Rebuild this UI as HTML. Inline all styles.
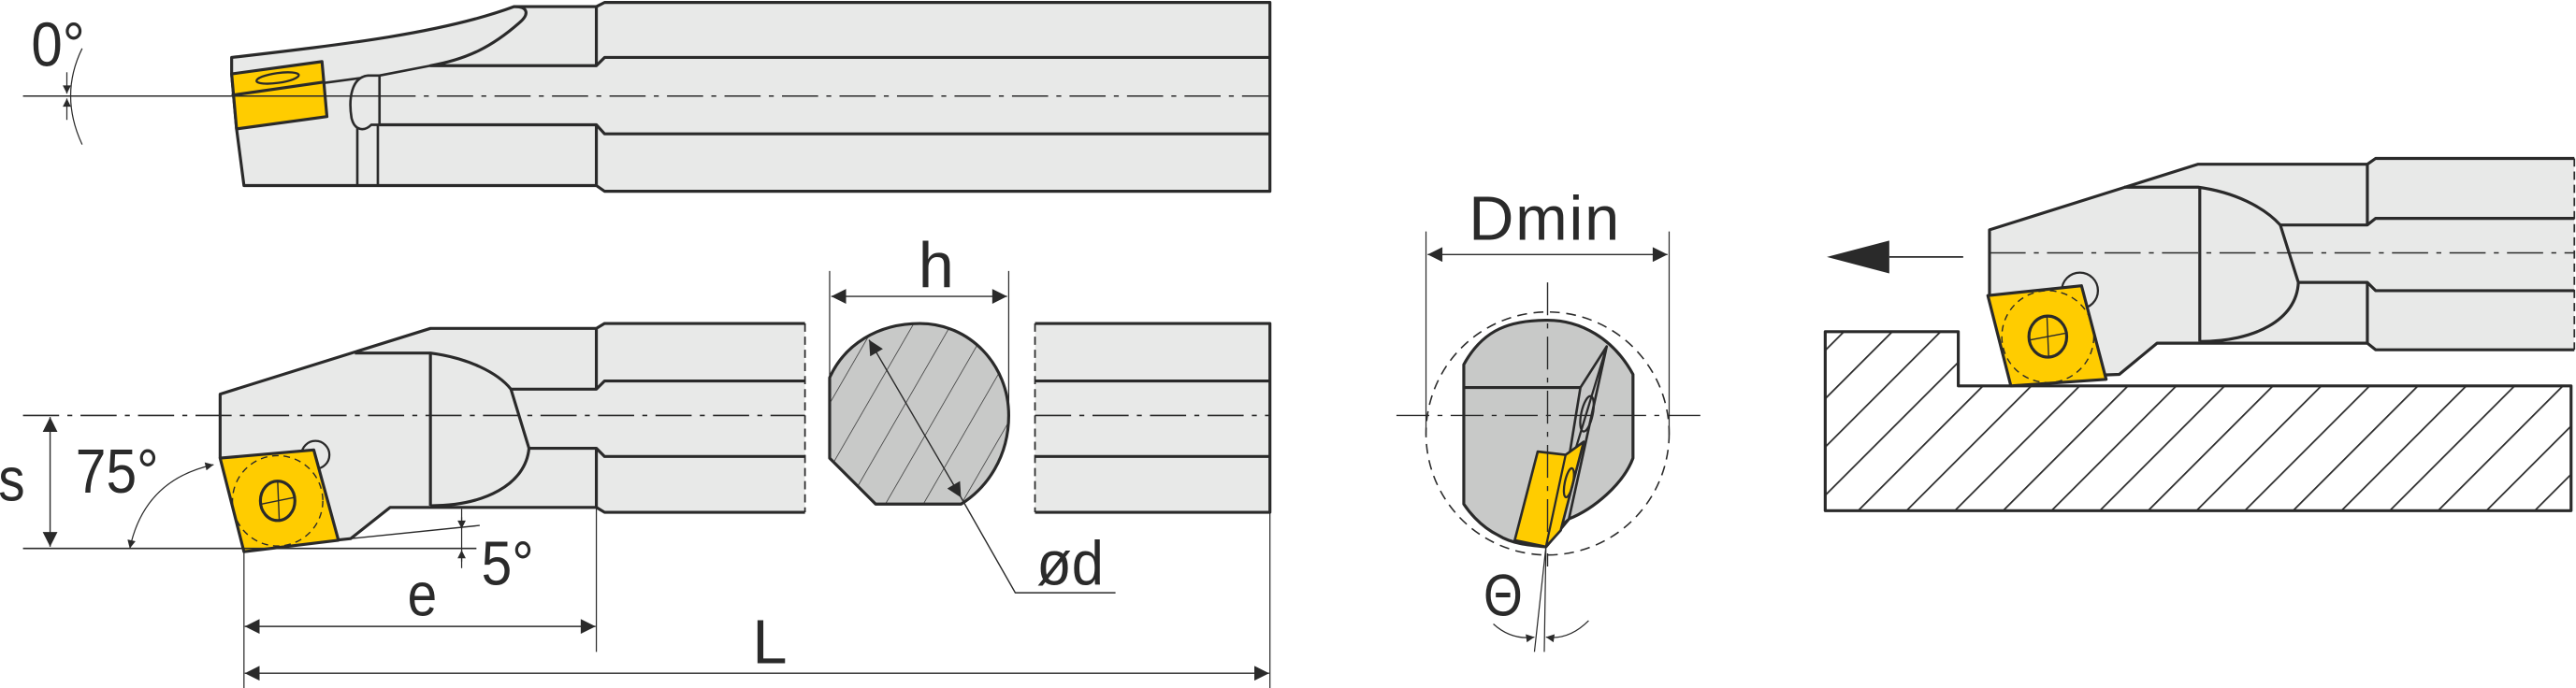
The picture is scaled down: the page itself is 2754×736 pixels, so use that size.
<!DOCTYPE html>
<html><head><meta charset="utf-8"><style>
html,body{margin:0;padding:0;background:#fff}
svg{display:block}
text{font-family:"Liberation Sans",sans-serif;fill:#2a2a2a}
</style></head><body>
<svg width="2754" height="736" viewBox="0 0 1568 419" preserveAspectRatio="none" xmlns="http://www.w3.org/2000/svg">
<defs>
<pattern id="h1" patternUnits="userSpaceOnUse" width="20.8" height="20.8" patternTransform="rotate(45)">
<line x1="0" y1="0" x2="0" y2="20.8" stroke="#2a2a2a" stroke-width="2"/></pattern>
<pattern id="h2" patternUnits="userSpaceOnUse" width="20" height="20" patternTransform="rotate(30)">
<line x1="0" y1="0" x2="0" y2="20" stroke="#2a2a2a" stroke-width="0.8"/></pattern>
<marker id="ar" viewBox="0 0 10 10" refX="10" refY="5" markerWidth="14" markerHeight="9" markerUnits="userSpaceOnUse" orient="auto-start-reverse"><path d="M0,0 L10,5 L0,10 z" fill="#2a2a2a"/></marker>
<marker id="as" viewBox="0 0 10 10" refX="10" refY="5" markerWidth="7" markerHeight="5" markerUnits="userSpaceOnUse" orient="auto-start-reverse"><path d="M0,0 L10,5 L0,10 z" fill="#2a2a2a"/></marker>
</defs>
<g stroke="#2a2a2a" stroke-linejoin="round" fill="none">

<!-- ============ TOP TOOL ============ -->
<path d="M141,35 C210,27 270,20 313,4 L363,4 L368,1.5 L773,1.5 L773,116.5 L368,116.5 L363,113 L148.5,113 L144,78.5 L141,45 Z" fill="#e8e9e8" stroke-width="1.8"/>
<path d="M313,4 C322,4 322,9 316,14 C300,28 285,36 262,40 L363,40 L368,35 L773,35" stroke-width="1.8"/>
<path d="M363,4 L363,40 M363,76 L363,113" stroke-width="1.8"/>
<path d="M231,76 L363,76 L368,81.5 L773,81.5" stroke-width="1.8"/>
<path d="M141,58 L231,46 L262,40" stroke-width="1.5"/>
<polygon points="141,45 196,37.5 199,71 144,78.5" fill="#ffcc00" stroke-width="1.8"/>
<line x1="141" y1="58" x2="197" y2="50" stroke-width="1.8"/>
<ellipse cx="169" cy="47.5" rx="13" ry="3" transform="rotate(-8 169 47.5)" stroke-width="1.3"/>
<path d="M224,46 C214,47 212,60 214,72 C216,80 222,80 226,76 L231,76 L231,46 Z" fill="#e8e9e8" stroke-width="1.5"/>
<path d="M217.5,78 L217.5,113 M230,76 L230,113" stroke-width="1.5"/>
<line x1="14" y1="58.5" x2="231" y2="58.5" stroke-width="0.9"/>
<line x1="231" y1="58.5" x2="773" y2="58.5" stroke-width="0.9" stroke-dasharray="22,5,3,5"/>
<path d="M50,29.5 Q36,58 50,88" stroke-width="0.7"/>
<path d="M40.7,44 L40.7,57" stroke-width="0.7" marker-end="url(#as)"/>
<path d="M40.7,73 L40.7,60" stroke-width="0.7" marker-end="url(#as)"/>

<!-- ============ BOTTOM TOOL ============ -->
<path d="M134,279 L134,240 L262,200 L363,200 L368,197 L490,197 L490,312 L368,312 L363,309 L237.5,309 L213.5,328 L200,329 Z" fill="#e8e9e8" stroke="none"/>
<path d="M134,279 L134,240 L262,200 L363,200 L368,197 L490,197" stroke-width="1.8"/>
<path d="M490,312 L368,312 L363,309 L237.5,309 L213.5,328 L204,329" stroke-width="1.8"/>
<path d="M216,215 L262,215 C285,218 303,227 311,237 L363,237 L368,232 L490,232" stroke-width="1.8"/>
<path d="M311,237 L322,273 L363,273 L368,278 L490,278" stroke-width="1.8"/>
<path d="M322,273 C320,295 295,308 262,308" stroke-width="1.8"/>
<path d="M262,215 L262,308 M363,200 L363,237 M363,273 L363,309" stroke-width="1.8"/>
<line x1="490" y1="197" x2="490" y2="312" stroke-width="1" stroke-dasharray="5,3"/>
<rect x="630" y="197" width="143" height="115" fill="#e8e9e8" stroke="none"/>
<path d="M630,197 L773,197 L773,312 L630,312 M630,232 L773,232 M630,278 L773,278" stroke-width="1.8"/>
<line x1="630" y1="197" x2="630" y2="312" stroke-width="1" stroke-dasharray="5,3"/>
<line x1="14" y1="253" x2="490" y2="253" stroke-width="0.9" stroke-dasharray="22,5,3,5"/>
<line x1="630" y1="253" x2="773" y2="253" stroke-width="0.9" stroke-dasharray="22,5,3,5"/>
<circle cx="192" cy="277" r="8.5" fill="#e8e9e8" stroke-width="1.3"/>
<polygon points="134,279 191,274 206,329 148.5,336" fill="#ffcc00" stroke-width="1.8"/>
<ellipse cx="169" cy="305" rx="27.5" ry="27.5" stroke-width="0.8" stroke-dasharray="4,3"/>
<ellipse cx="169" cy="305" rx="10.5" ry="12" stroke-width="1.8"/>
<path d="M169,293 L170,317 M159,307 L179,303" stroke-width="0.8"/>
<!-- dims -->
<line x1="14" y1="334" x2="290" y2="334" stroke-width="0.9"/>
<line x1="213.5" y1="328" x2="292" y2="320" stroke-width="0.8"/>
<line x1="30.5" y1="254" x2="30.5" y2="333" stroke-width="0.8" marker-start="url(#ar)" marker-end="url(#ar)"/>
<path d="M130,283 Q88,292 79,334" stroke-width="0.7" marker-start="url(#as)" marker-end="url(#as)"/>
<line x1="281" y1="310" x2="281" y2="346" stroke-width="0.7"/>
<path d="M281,315 L281,322" stroke-width="0.7" marker-end="url(#as)"/>
<path d="M281,342 L281,335" stroke-width="0.7" marker-end="url(#as)"/>
<line x1="148.5" y1="336" x2="148.5" y2="419" stroke-width="0.7"/>
<line x1="363" y1="309" x2="363" y2="397" stroke-width="0.7"/>
<line x1="773" y1="312" x2="773" y2="419" stroke-width="0.7"/>
<line x1="149" y1="381.5" x2="362.5" y2="381.5" stroke-width="0.8" marker-start="url(#ar)" marker-end="url(#ar)"/>
<line x1="149" y1="410" x2="772.5" y2="410" stroke-width="0.8" marker-start="url(#ar)" marker-end="url(#ar)"/>

<!-- section -->
<path d="M533,307 L505,279 L505,230 C514,210 534,197 560,197 C590,197 614,222 614,253 C614,278 601,297 585,307 Z" fill="#c8c9c8" stroke="none"/>
<path d="M533,307 L505,279 L505,230 C514,210 534,197 560,197 C590,197 614,222 614,253 C614,278 601,297 585,307 Z" fill="url(#h2)" stroke-width="1.8"/>
<line x1="505" y1="165" x2="505" y2="258" stroke-width="0.7"/>
<line x1="614" y1="165" x2="614" y2="258" stroke-width="0.7"/>
<line x1="506" y1="180.5" x2="613" y2="180.5" stroke-width="0.8" marker-start="url(#ar)" marker-end="url(#ar)"/>
<line x1="529" y1="207" x2="585" y2="303" stroke-width="0.8" marker-start="url(#ar)" marker-end="url(#ar)"/>
<path d="M585,303 L618,361 L679,361" stroke-width="0.8"/>

<!-- ============ DMIN VIEW ============ -->
<circle cx="942" cy="264" r="74" stroke-width="0.9" stroke-dasharray="6,4"/>
<path d="M891,222 C903,200 920,195 942,195 C962,195 982,206 994,228 L994,279 C988,295 970,310 955,316 L941,333 C930,332 920,331 912,326 C900,320 893,310 891,307 Z" fill="#c8c9c8" stroke-width="1.8"/>
<line x1="891" y1="236" x2="962" y2="236" stroke-width="1.8"/>
<polygon points="962,236 978,211 955,316 948,322" fill="#c8c9c8" stroke-width="1.5"/>
<line x1="978" y1="211" x2="941" y2="333" stroke-width="1.3"/>
<ellipse cx="966" cy="252" rx="3.5" ry="11" transform="rotate(12 966 252)" stroke-width="1.3"/>
<polygon points="936,275 953,277 964,269 950,323 941,333 922,329" fill="#ffcc00" stroke-width="1.5"/>
<line x1="953" y1="277" x2="941" y2="333" stroke-width="1.3"/>
<ellipse cx="955" cy="294" rx="2.5" ry="9" transform="rotate(12 955 294)" stroke-width="1.3"/>
<line x1="850" y1="253" x2="1035" y2="253" stroke-width="0.8" stroke-dasharray="20,5,3,5"/>
<line x1="942" y1="172" x2="942" y2="345" stroke-width="0.8" stroke-dasharray="20,5,3,5"/>
<line x1="868" y1="141" x2="868" y2="265" stroke-width="0.7"/>
<line x1="1016" y1="141" x2="1016" y2="265" stroke-width="0.7"/>
<line x1="869" y1="155" x2="1015" y2="155" stroke-width="0.8" marker-start="url(#ar)" marker-end="url(#ar)"/>
<path d="M941,333 L934,397 M941,333 L940,397" stroke-width="0.7"/>
<path d="M909,380 Q920,390 934,388" stroke-width="0.7" marker-end="url(#as)"/>
<path d="M967,378 Q955,390 941,388" stroke-width="0.7" marker-end="url(#as)"/>

<!-- ============ RIGHT VIEW ============ -->
<path d="M1111,202 L1192,202 L1192,235 L1565,235 L1565,311 L1111,311 Z" fill="url(#h1)" stroke-width="1.8"/>
<path d="M1211,140 L1338,100 L1441,100 L1446,96.5 L1567,96.5 L1567,213 L1446,213 L1441,209 L1313,209 L1290,228 L1277,228.5 L1211,180 Z" fill="#e8e9e8" stroke="none"/>
<path d="M1211,180 L1211,140 L1338,100 L1441,100 L1446,96.5 L1567,96.5" stroke-width="1.8"/>
<path d="M1567,213 L1446,213 L1441,209 L1313,209 L1290,228 L1277,228.5" stroke-width="1.8"/>
<path d="M1293,114 L1338,114 C1360,117 1378,126 1388,137 L1441,137 L1446,133 L1567,133" stroke-width="1.8"/>
<path d="M1388,137 L1399,172 L1441,172 L1446,177 L1567,177" stroke-width="1.8"/>
<path d="M1399,172 C1398,195 1372,208 1339,208" stroke-width="1.8"/>
<path d="M1339,114 L1339,208 M1441,100 L1441,137 M1441,172 L1441,209" stroke-width="1.8"/>
<line x1="1567" y1="96.5" x2="1567" y2="213" stroke-width="1" stroke-dasharray="5,3"/>
<line x1="1211" y1="154" x2="1567" y2="154" stroke-width="0.9" stroke-dasharray="22,5,3,5"/>
<circle cx="1266" cy="177" r="11" fill="#e8e9e8" stroke-width="1.3"/>
<polygon points="1210,180 1267,174 1282,231 1224,235" fill="#ffcc00" stroke-width="1.8"/>
<ellipse cx="1246.5" cy="205" rx="28" ry="28" stroke-width="0.8" stroke-dasharray="4,3"/>
<ellipse cx="1246.5" cy="205" rx="11.5" ry="12.5" stroke-width="1.8"/>
<path d="M1246,193 L1247,217 M1236,207 L1257,203" stroke-width="0.8"/>
<line x1="1150" y1="156.5" x2="1195" y2="156.5" stroke-width="1"/>
<polygon points="1112,156.5 1150,146.5 1150,166.5" fill="#2a2a2a" stroke="none"/>
</g>

<g>
<text x="19" y="40" font-size="38" transform="translate(19 40) scale(0.9 1) translate(-19 -40)">0°</text>
<text x="-1" y="305" font-size="34" transform="translate(-1 305) scale(0.95 1.1) translate(1 -305)">s</text>
<text x="46" y="300" font-size="38" transform="translate(46 300) scale(0.88 1) translate(-46 -300)">75°</text>
<text x="293" y="356" font-size="38" transform="translate(293 356) scale(0.88 1) translate(-293 -356)">5°</text>
<text x="248" y="375" font-size="34" transform="translate(248 375) scale(0.95 1.1) translate(-248 -375)">e</text>
<text x="458" y="404" font-size="38">L</text>
<text x="559" y="175" font-size="39">h</text>
<text x="631" y="356" font-size="38" transform="translate(631 356) scale(0.92 1) translate(-631 -356)">ød</text>
<text x="894" y="146" font-size="38" letter-spacing="1">Dmin</text>
<text x="903" y="375" font-size="36" transform="translate(903 375) scale(0.85 1) translate(-903 -375)">Θ</text>
</g>
</svg>
</body></html>
